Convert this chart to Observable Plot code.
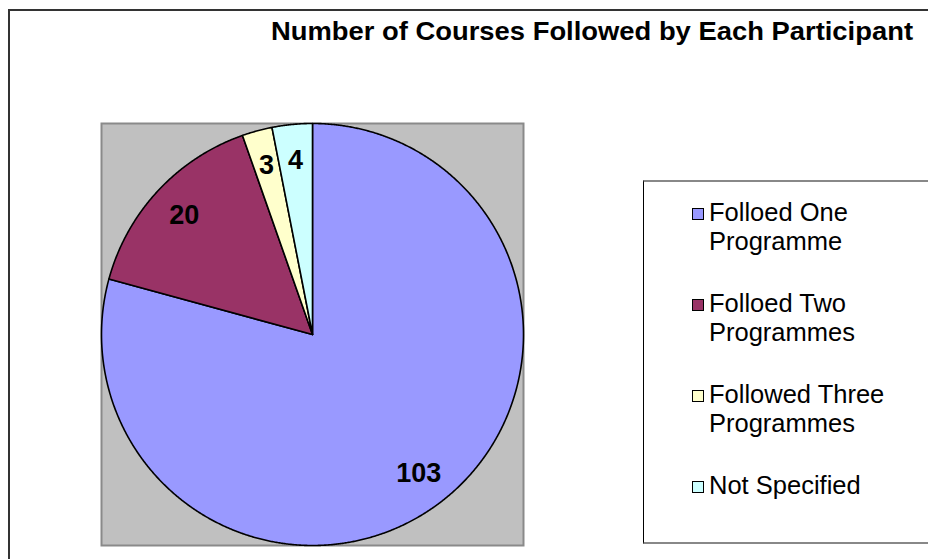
<!DOCTYPE html>
<html>
<head>
<meta charset="utf-8">
<script src="https://cdn.jsdelivr.net/npm/d3@7"></script>
<script src="https://cdn.jsdelivr.net/npm/@observablehq/plot@0.6"></script>
<style>
  html, body { margin: 0; padding: 0; background: #fff; }
  #wrap { position: relative; width: 928px; height: 559px; overflow: hidden; font-family: "Liberation Sans", Arial, sans-serif; }
  #outer { position: absolute; left: 8px; top: 9px; width: 1000px; height: 700px; border: 2px solid #333; box-sizing: border-box; }
  #chart { position: absolute; left: 0; top: 0; }
  #title { position: absolute; left: 271px; top: 16px; font-weight: bold; font-size: 26px; white-space: nowrap; color: #000; transform-origin: left center; }
  #legend { position: absolute; left: 643px; top: 180px; width: 400px; height: 364px; border-left: 1.5px solid #000; border-top: 2px solid #888; border-bottom: 2px solid #888; box-sizing: border-box; background: #fff; }
  .item { position: absolute; left: 48px; font-size: 25.5px; line-height: 29px; color: #000; }
  .sw { position: absolute; left: 0; top: 10px; width: 10px; height: 10px; border: 1.5px solid #000; }
  .txt { position: absolute; left: 17px; top: 0; white-space: nowrap; }
</style>
</head>
<body>
<div id="wrap">
  <div id="outer"></div>
  <div id="chart"></div>
  <div id="title">Number of Courses Followed by Each Participant</div>
  <div id="legend"></div>
</div>
<script>
const categories = ["Folloed One Programme", "Folloed Two Programmes", "Followed Three Programmes", "Not Specified"];
const legendLines = [["Folloed One", "Programme"], ["Folloed Two", "Programmes"], ["Followed Three", "Programmes"], ["Not Specified"]];
const values = [103, 20, 3, 4];
const colors = ["#9999FF", "#993366", "#FFFFCC", "#CCFFFF"];

const pie = d3.pie().sort(null).value(d => d.value)(categories.map((c, i) => ({key: c, value: values[i]})));

// polygon outlines of the slices, built from the pie angles
const pts = [];
pie.forEach(s => {
  pts.push({key: s.data.key, x: 0, y: 0});
  const n = Math.max(4, Math.ceil((s.endAngle - s.startAngle) / 0.005));
  for (let k = 0; k <= n; k++) {
    const a = s.startAngle + (s.endAngle - s.startAngle) * k / n;
    pts.push({key: s.data.key, x: Math.sin(a), y: Math.cos(a)});
  }
  pts.push({key: s.data.key, x: 0, y: 0});
});
const labels = pie.map(s => {
  const m = (s.startAngle + s.endAngle) / 2;
  return {key: s.data.key, label: String(s.data.value), x: 0.83 * Math.sin(m), y: 0.83 * Math.cos(m)};
});

const plot = Plot.plot({
  width: 928,
  height: 559,
  marginLeft: 101,
  marginRight: 405,
  marginTop: 123,
  marginBottom: 14,
  x: {domain: [-1, 1], axis: null},
  y: {domain: [-1, 1], axis: null},
  color: {domain: categories, range: colors},
  style: {background: "transparent", fontFamily: "Liberation Sans, Arial, sans-serif"},
  marks: [
    Plot.frame({fill: "#C0C0C0", stroke: "#8a8a8a", strokeWidth: 2}),
    Plot.line(pts, {x: "x", y: "y", z: "key", fill: "key", stroke: "#000", strokeWidth: 1.6, strokeLinejoin: "round", curve: "linear"}),
    Plot.text(labels, {x: "x", y: "y", text: "label", fontSize: 27, fontWeight: "bold", fill: "#000", textAnchor: "middle", lineAnchor: "middle"})
  ]
});
document.getElementById("chart").appendChild(plot);

const legend = document.getElementById("legend");
categories.forEach((c, i) => {
  const it = document.createElement("div");
  it.className = "item";
  it.style.top = (16 + 91 * i) + "px";
  const sw = document.createElement("div");
  sw.className = "sw";
  sw.style.background = colors[i];
  const tx = document.createElement("div");
  tx.className = "txt";
  tx.innerHTML = legendLines[i].join("<br>");
  it.appendChild(sw);
  it.appendChild(tx);
  legend.appendChild(it);
});

// match title width to the reference span
const t = document.getElementById("title");
const w = t.getBoundingClientRect().width;
t.style.transform = `scaleX(${642 / w})`;
</script>
</body>
</html>
